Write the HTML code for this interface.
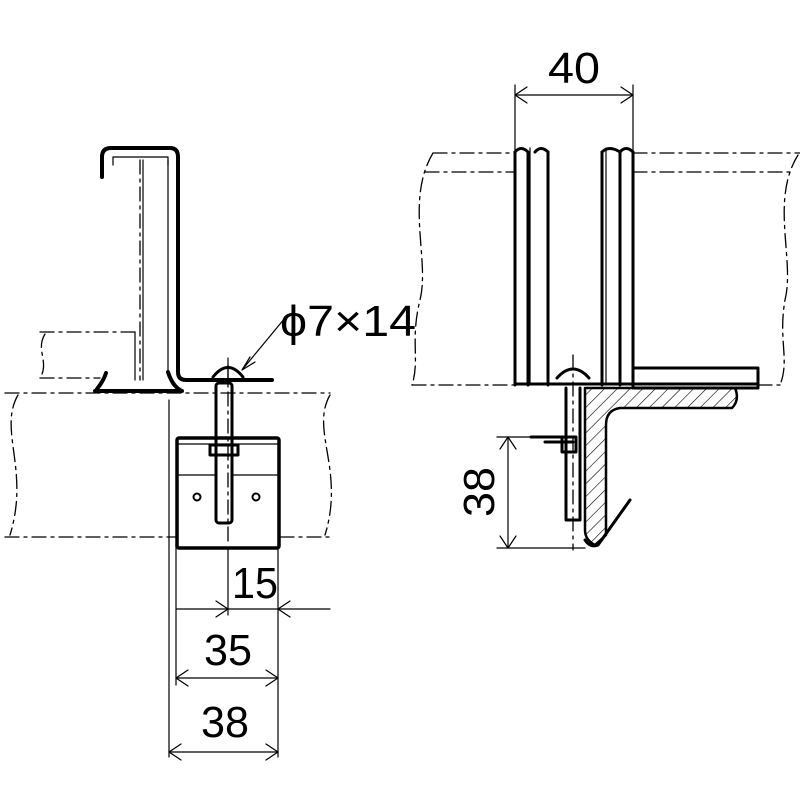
<!DOCTYPE html>
<html><head><meta charset="utf-8"><style>html,body{margin:0;padding:0;background:#fff}svg{display:block}</style></head>
<body>
<svg width="800" height="800" viewBox="0 0 800 800" xmlns="http://www.w3.org/2000/svg" fill="none" stroke="#000" stroke-linecap="round" stroke-linejoin="round">
<defs>
<pattern id="h" width="9" height="9" patternUnits="userSpaceOnUse" patternTransform="rotate(45)">
<line x1="0" y1="0" x2="0" y2="9" stroke="#000" stroke-width="1.2"/>
</pattern>
</defs>
<g font-family="Liberation Sans, sans-serif" font-size="44" fill="#000" stroke="none">
<text x="255" y="598" text-anchor="middle" textLength="46" lengthAdjust="spacingAndGlyphs">15</text>
<text x="228" y="665" text-anchor="middle" textLength="48" lengthAdjust="spacingAndGlyphs">35</text>
<text x="225" y="737" text-anchor="middle" textLength="48" lengthAdjust="spacingAndGlyphs">38</text>
<text x="574" y="83" text-anchor="middle" textLength="52" lengthAdjust="spacingAndGlyphs">40</text>
<text x="348" y="336" text-anchor="middle" textLength="136" lengthAdjust="spacingAndGlyphs">ϕ7×14</text>
<text transform="translate(494,492) rotate(-90)" text-anchor="middle" textLength="50" lengthAdjust="spacingAndGlyphs">38</text>
</g>

<!-- LEFT VIEW -->
<g stroke-width="1.3" stroke-dasharray="14,5,3,5">
<path d="M5,393 H330"/>
<path d="M5,537 H176 M280,537 H330"/>
<path d="M40,332 H135"/>
<path d="M40,378 H100"/>
<path d="M18,395 C-2,430 30,470 10,535"/>
<path d="M330,395 C310,430 345,470 325,535"/>
<path d="M45,334 C35,350 50,362 40,378"/>
<path d="M140,160 V380"/>
<path d="M228,365 V545"/>
</g>
<g stroke-width="1.2">
<path d="M135,332 V380"/>
<path d="M143,160 V380"/>
<path d="M113,165 V157 H168 V165"/>
<path d="M168,160 V375"/>
<path d="M169,400 V757 M176,545 V685 M228,550 V615 M278,545 V757"/>
<path d="M176,609 H330 M176,678 H278 M169,752 H278"/>
<path d="M216,601 L228,609 L216,617 M290,601 L278,609 L290,617"/>
<path d="M188,670 L176,678 L188,686 M266,670 L278,678 L266,686"/>
<path d="M181,744 L169,752 L181,760 M266,744 L278,752 L266,760"/>
<path d="M285,318 L242,370 M250,357 L242,370 L255,362"/>
<path d="M176,475 H215 M232,475 H280"/>
</g>
<g stroke-width="4">
<path d="M102,177 V157 Q102,148 111,148 H170 Q178,148 178,157 V372 Q178,380 186,380 H272"/>
<path d="M95,391 H182"/>
<path d="M97,389 Q104,380 106,373"/>
<path d="M168,372 Q172,385 180,390"/>
<rect x="177" y="438" width="102" height="110" rx="2" stroke-width="3.5"/>
<rect x="216" y="383" width="16" height="140" rx="3" stroke-width="3"/>
<path d="M210,445 H238 V455 H210 Z" stroke-width="3"/>
<path d="M213,377 Q228,358 243,377" stroke-width="3"/>
</g>
<path d="M228,358 V378" stroke-width="1.2"/>
<circle cx="197" cy="497" r="3.5" stroke-width="2"/>
<circle cx="256" cy="497" r="3.5" stroke-width="2"/>
<path d="M179,444 H277" stroke-width="1.2"/>

<!-- RIGHT VIEW -->
<g stroke-width="1.3" stroke-dasharray="14,5,3,5">
<path d="M433,153 H515 M633,153 H800"/>
<path d="M425,172 H515 M633,172 H790"/>
<path d="M412,385 H515 M758,385 H780"/>
<path d="M433,153 C405,200 430,260 420,300 C410,340 420,360 412,385"/>
<path d="M798,155 C770,200 795,260 785,300 C778,340 790,360 780,385"/>
<path d="M573,355 V550"/>
</g>
<g stroke-width="1.2">
<path d="M515,85 V150 M633,85 V150 M515,95 H633"/>
<path d="M527,87 L515,95 L527,103 M621,87 L633,95 L621,103"/>
<path d="M497,437 H560 M497,548 H585 M508,437 V548"/>
<path d="M500,449 L508,437 L516,449 M500,536 L508,548 L516,536"/>
<path d="M530,148 V385 M606,148 V385"/>
</g>
<g stroke-width="3">
<path d="M515,152 V385 M548,152 V385 M633,152 V385 M620,152 V385 M528,152 V385 M602,152 V385"/>
<path d="M515,152 Q521,145 528,152 M535,152 Q541,145 548,152 M602,152 Q609,145 620,152 M620,152 Q626,145 633,152"/>
<path d="M515,384 H758"/>
<rect x="633" y="368" width="125" height="20"/>
<path d="M566,388 V520 H580 V388"/>
<path d="M557,378 Q573,360 589,378"/>
<path d="M531,437 H573 M545,442 H573"/>
<rect x="562" y="437" width="14" height="15"/>
<path d="M585,540 Q590,548 598,545 L630,500"/>
</g>
<path d="M585,388 H735 Q740,400 732,408 H620 Q606,410 606,425 V535 L595,545 Q585,540 585,530 Z" fill="url(#h)" stroke-width="2.5"/>
</svg>
</body></html>
